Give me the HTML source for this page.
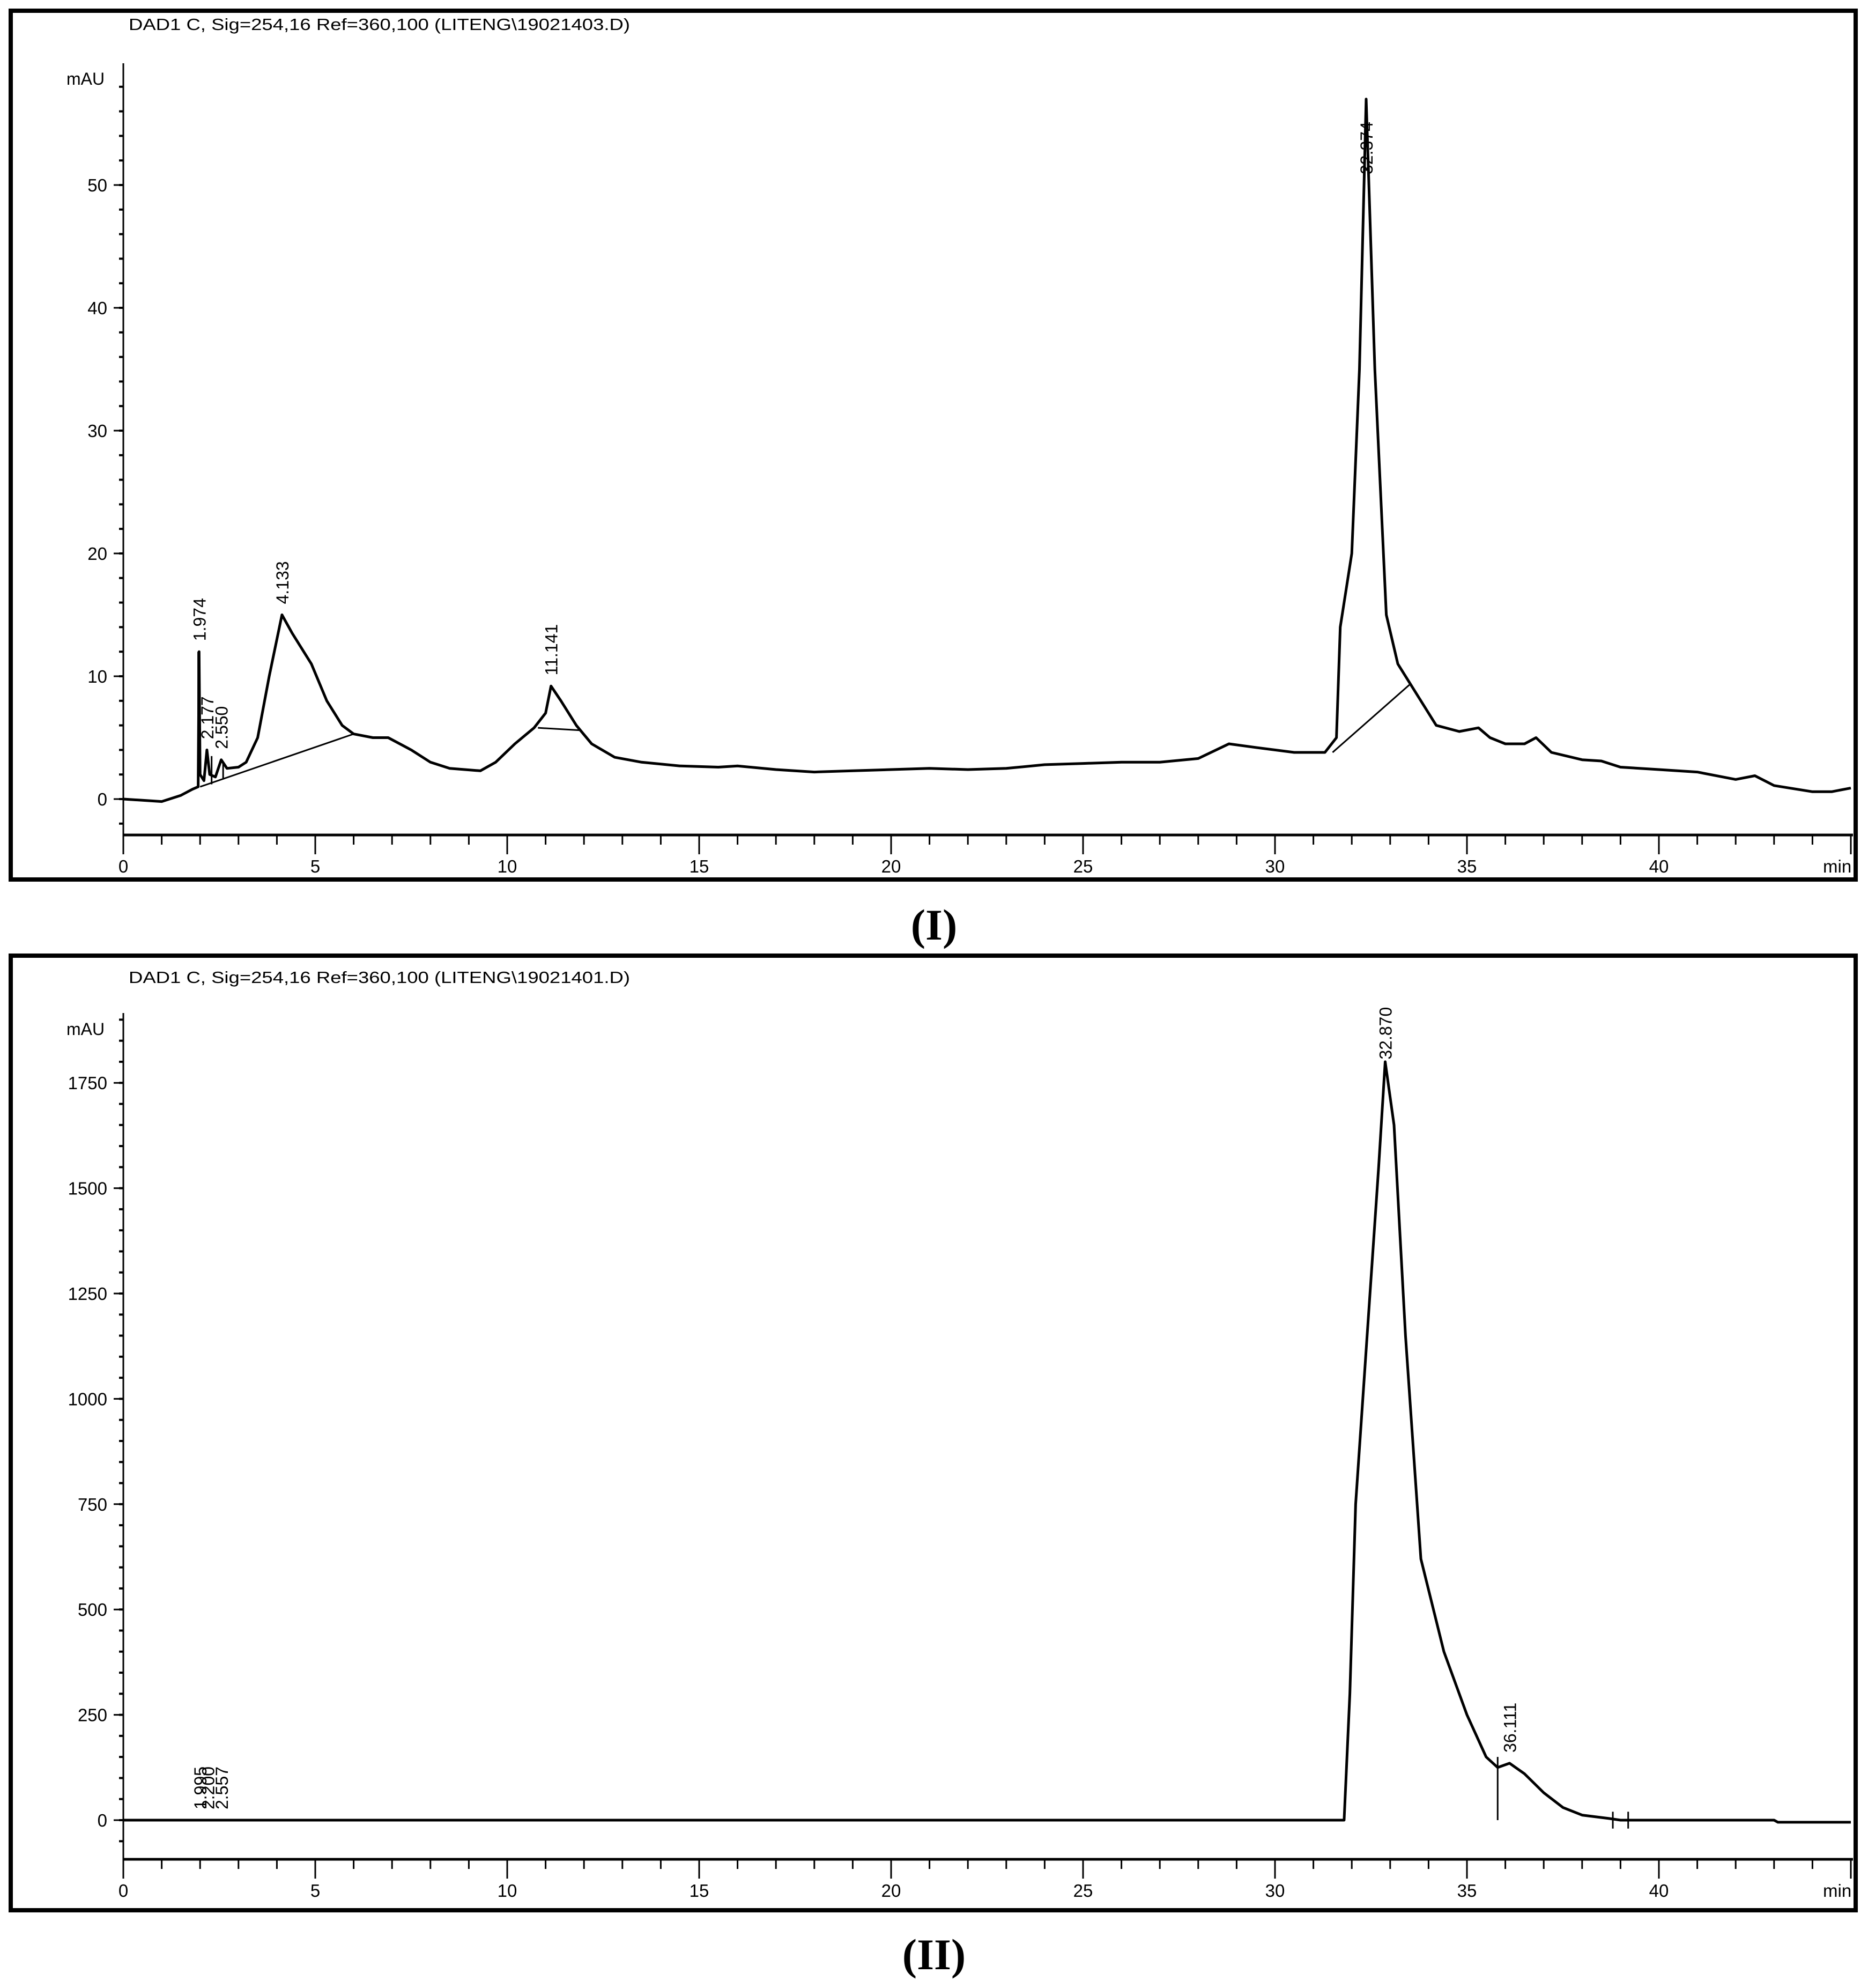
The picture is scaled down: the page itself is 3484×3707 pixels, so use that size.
<!DOCTYPE html>
<html><head><meta charset="utf-8"><style>
html,body{margin:0;padding:0;background:#fff;}
svg text{font-family:"Liberation Sans",sans-serif;fill:#000;}
</style></head><body>
<svg id="svg" width="3484" height="3702" viewBox="0 0 3484 3702" xmlns="http://www.w3.org/2000/svg">
<g id="p1"></g>
<g id="p2"></g>
</svg>
<script>
// Panel I data (time in min, absorbance in mAU)
const p1Times = [0,0.5,1.0,1.5,1.8,1.95,1.974,2.0,2.1,2.177,2.25,2.4,2.55,2.7,3.0,3.2,3.5,3.8,4.133,4.4,4.9,5.3,5.7,6.0,6.5,6.9,7.5,8.0,8.5,9.3,9.7,10.2,10.7,11.0,11.141,11.4,11.8,12.2,12.8,13.5,14.5,15.5,16,17,18,19,20,21,22,23,24,25,26,27,28,28.8,29.5,30.5,31.3,31.6,31.7,32.0,32.2,32.374,32.6,32.9,33.2,33.6,34.2,34.8,35.3,35.6,36,36.5,36.8,37.2,38,38.5,39,40,41,42,42.5,43,44,44.5,45];
const p1Values = [0,-0.1,-0.2,0.3,0.8,1.0,12,2,1.5,4,2,1.8,3.2,2.5,2.6,3,5,10,15,13.5,11,8,6,5.3,5,5,4,3,2.5,2.3,3,4.5,5.8,7,9.2,8,6,4.5,3.4,3,2.7,2.6,2.7,2.4,2.2,2.3,2.4,2.5,2.4,2.5,2.8,2.9,3.0,3.0,3.3,4.5,4.2,3.8,3.8,5,14,20,35,57,35,15,11,9,6,5.5,5.8,5,4.5,4.5,5,3.8,3.2,3.1,2.6,2.4,2.2,1.6,1.9,1.1,0.6,0.6,0.9];
const p1PeakTimes = [1.974,2.177,2.550,4.133,11.141,32.374];
const p1PeakLabels = ["1.974","2.177","2.550","4.133","11.141","32.374"];
const p1PeakHeights = [12,4,3.2,15,9.2,50];
const p1BaselineStart = [[2.0,1.0],[10.8,5.8],[31.5,3.8]];
const p1BaselineEnd = [[6.0,5.3],[11.9,5.6],[33.5,9.3]];
const p1YTicks = [0,10,20,30,40,50];

// Panel II data
const p2Times = [0,31.8,31.95,32.1,32.4,32.7,32.87,33.1,33.4,33.8,34.4,35.0,35.5,35.8,36.111,36.5,37,37.5,38,38.7,39,43,43.1,45];
const p2Values = [0,0,300,750,1150,1550,1800,1650,1150,620,400,250,150,125,135,110,65,30,12,4,0,0,-5,-5];
const p2PeakTimes = [1.995,2.200,2.557,32.870,36.111];
const p2PeakLabels = ["1.995","2.200","2.557","32.870","36.111"];
const p2PeakHeights = [0,0,0,1780,135];
const p2YTicks = [0,250,500,750,1000,1250,1500,1750];
const xTicks = [0,5,10,15,20,25,30,35,40];

const NS="http://www.w3.org/2000/svg";
function mk(parent,tag,attrs,text){const e=document.createElementNS(NS,tag);for(const k in attrs)e.setAttribute(k,attrs[k]);if(text!==undefined)e.textContent=text;parent.appendChild(e);return e;}

function panel(g,cfg){
  const xs=t=>230+t*71.6;
  const ys=v=>cfg.y0-v*cfg.ppu;
  let e;
  e=mk(g,'rect',{x:cfg.bx,y:cfg.by,width:3441,height:cfg.bh,fill:'none',stroke:'#000','stroke-width':8});
  
  
  e=mk(g,'text',{x:240,y:cfg.titleY,'font-size':31,textLength:935,lengthAdjust:'spacingAndGlyphs'},cfg.title);
  
  
  e=mk(g,'text',{x:124,y:cfg.mauY,'font-size':32},'mAU');
  
  
  e=mk(g,'line',{x1:230,y1:cfg.axTop,x2:230,y2:cfg.axY,stroke:'#000','stroke-width':3});
  
  
  e=mk(g,'line',{x1:230,y1:cfg.axY,x2:3456,y2:cfg.axY,stroke:'#000','stroke-width':5});
  
  
  for(let v=cfg.minorStart; ys(v)>=cfg.axTop; v+=cfg.minor){
    if(ys(v)>cfg.axY) continue;
    e=mk(g,'line',{x1:222,y1:ys(v),x2:230,y2:ys(v),stroke:'#000','stroke-width':4});
    
    
  }
  cfg.yTicks.forEach(v=>{
    e=mk(g,'line',{x1:212,y1:ys(v),x2:230,y2:ys(v),stroke:'#000','stroke-width':3});
    
    
    e=mk(g,'text',{x:200,y:ys(v)+12,'font-size':33,'text-anchor':'end'},String(v));
    
    
  });
  for(let t=0;t<=45;t++){
    const maj=t%5===0;
    e=mk(g,'line',{x1:xs(t),y1:cfg.axY,x2:xs(t),y2:cfg.axY+(maj?36:18),stroke:'#000','stroke-width':3});
    
    
  }
  xTicks.forEach(t=>{
    e=mk(g,'text',{x:xs(t),y:cfg.axY+70,'font-size':33,'text-anchor':'middle'},String(t));
    
    
  });
  e=mk(g,'text',{x:3400,y:cfg.axY+70,'font-size':33},'min');
  
  
  const pts=cfg.times.map((t,i)=>xs(t).toFixed(1)+','+ys(cfg.values[i]).toFixed(1)).join(' ');
  e=mk(g,'polyline',{points:pts,fill:'none',stroke:'#000','stroke-width':5,'stroke-linejoin':'round'});
  
  
  (cfg.bs||[]).forEach((s,i)=>{
    const en=cfg.be[i];
    e=mk(g,'line',{x1:xs(s[0]),y1:ys(s[1]),x2:xs(en[0]),y2:ys(en[1]),stroke:'#000','stroke-width':3});
    
    
  });
  (cfg.drops||[]).forEach(d=>{
    e=mk(g,'line',{x1:xs(d[0]),y1:ys(d[1]),x2:xs(d[0]),y2:ys(d[2]),stroke:'#000','stroke-width':3});
    
    
  });
  cfg.peaks.forEach((t,i)=>{
    const x=xs(t)+12, y=ys(cfg.heights[i])-cfg.labOff;
    e=mk(g,'text',{x:x,y:y,'font-size':32,transform:'rotate(-90 '+x+' '+y+')'},cfg.labels[i]);
    
    
  });
}

panel(document.getElementById('p1'),{bx:20,by:20,bh:1620,title:'DAD1 C, Sig=254,16 Ref=360,100 (LITENG\\19021403.D)',titleY:56,mauY:158,
  axTop:118,axY:1557,y0:1490,ppu:22.9,minor:2,minorStart:-2,yTicks:p1YTicks,
  times:p1Times,values:p1Values,peaks:p1PeakTimes,labels:p1PeakLabels,heights:p1PeakHeights,labOff:20,
  bs:p1BaselineStart,be:p1BaselineEnd,drops:[[1.95,1.0,12],[2.3,1.2,3.5],[2.6,1.6,3]]});
panel(document.getElementById('p2'),{bx:20,by:1782,bh:1780,title:'DAD1 C, Sig=254,16 Ref=360,100 (LITENG\\19021401.D)',titleY:1833,mauY:1930,
  axTop:1889,axY:3467,y0:3394,ppu:0.7856,minor:50,minorStart:-50,yTicks:p2YTicks,
  times:p2Times,values:p2Values,peaks:p2PeakTimes,labels:p2PeakLabels,heights:p2PeakHeights,labOff:20,
  drops:[[31.8,0,5],[35.8,0,150],[38.8,-20,20],[39.2,-20,20]]});

let e;
e=mk(document.getElementById('svg'),'text',{x:1742,y:1752,'font-size':82,'font-weight':'bold','text-anchor':'middle',style:'font-family:"Liberation Serif",serif'},'(I)');


e=mk(document.getElementById('svg'),'text',{x:1742,y:3672,'font-size':82,'font-weight':'bold','text-anchor':'middle',style:'font-family:"Liberation Serif",serif'},'(II)');


</script>
</body></html>
